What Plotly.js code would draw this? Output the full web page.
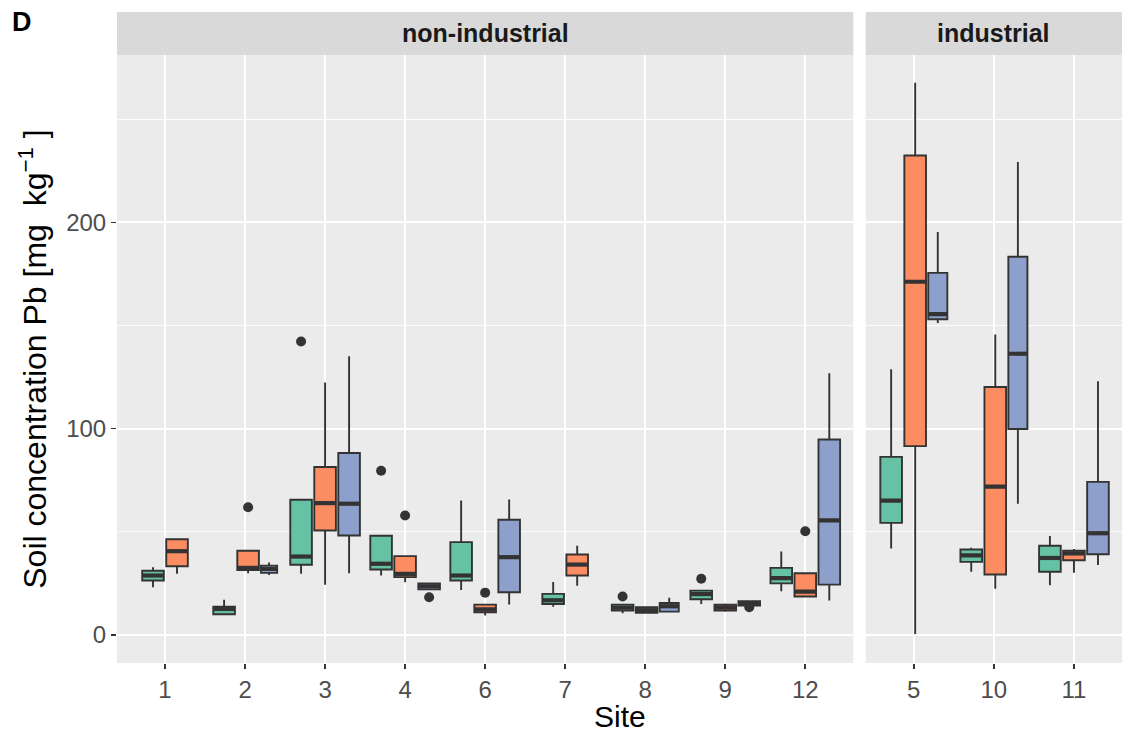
<!DOCTYPE html>
<html>
<head>
<meta charset="utf-8">
<script src="https://cdn.plot.ly/plotly-3.0.1.min.js"></script>
<style>html,body{margin:0;padding:0;background:#fff;}#chart{width:1124px;height:734px;}</style>
</head>
<body>
<div id="chart"></div>
<script>
// ---------------- data ----------------
const nonIndustrialSites = ['1', '2', '3', '4', '6', '7', '8', '9', '12'];
const industrialSites = ['5', '10', '11'];
const groupNames = ['group 1', 'group 2', 'group 3'];

// one entry per box (site, group index)
const boxSite  = ['1','1', '2','2','2', '3','3','3', '4','4','4', '6','6','6', '7','7', '8','8','8', '9','9','9', '12','12','12', '5','5','5', '10','10','10', '11','11','11'];
const boxGroup = [ 0, 1,    0, 1, 2,    0, 1, 2,    0, 1, 2,    0, 1, 2,    0, 1,    0, 1, 2,    0, 1, 2,    0, 1, 2,       0, 1, 2,    0, 1, 2,       0, 1, 2];
const lowerWhisker = [23.1, 29.6,  10.0, 29.9, 29.1,  29.6, 24.3, 29.9,  28.8, 25.5, 22.1,  21.8, 9.4, 14.7,  13.7, 23.8,  10.5, 10.7, 11.3,  15.0, 11.3, 14.2,  21.2, 18.3, 16.7,  41.9, 0.5, 151.2,  30.6, 22.4, 63.6,  24.1, 30.2, 33.9];
const q1Values     = [26.4, 33.3,  10.0, 31.5, 30.1,  34.0, 50.6, 48.2,  31.7, 28.0, 22.1,  26.4, 11.0, 20.7,  15.0, 28.8,  11.8, 10.7, 11.3,  17.3, 11.8, 14.2,  25.0, 18.6, 24.4,  54.3, 91.5, 153.0,  35.4, 29.3, 99.8,  30.6, 36.2, 39.1];
const medianValues = [28.8, 40.6,  12.6, 32.5, 32.0,  38.0, 63.9, 63.6,  34.5, 29.6, 23.6,  28.8, 12.4, 37.7,  16.8, 34.1,  13.2, 12.0, 13.9,  19.8, 13.2, 15.3,  27.5, 21.0, 55.5,  65.1, 171.2, 155.5,  38.6, 71.9, 136.3,  37.3, 39.5, 49.3];
const q3Values     = [31.1, 46.4,  13.7, 40.8, 33.6,  65.5, 81.4, 88.2,  48.1, 38.2, 25.0,  45.0, 14.7, 55.8,  19.9, 39.0,  14.7, 13.4, 15.5,  21.5, 14.6, 16.3,  32.5, 29.9, 94.7,  86.3, 232.4, 175.5,  41.4, 120.2, 183.3,  43.2, 40.8, 74.2];
const upperWhisker = [32.8, 46.4,  17.1, 40.8, 35.1,  65.5, 122.4, 135.1,  48.1, 38.2, 25.0,  65.2, 14.7, 65.7,  25.7, 43.2,  14.7, 13.4, 18.0,  21.5, 15.3, 16.3,  40.4, 29.9, 126.8,  128.8, 267.7, 195.3,  42.3, 145.6, 229.2,  47.9, 41.7, 123.0];
const sampleSize   = [9, 9,  9, 9, 5,  9, 9, 9,  9, 9, 9,  9, 9, 9,  9, 9,  9, 9, 7,  9, 9, 9,  9, 9, 9,  9, 9, 7,  9, 9, 7,  9, 9, 9];

// outliers
const outlierSite  = ['2', '3', '4', '4', '4', '6', '8', '9', '9', '12'];
const outlierGroup = [ 1,   0,   0,   1,   2,   1,   0,   0,   2,   1];
const outlierValue = [61.9, 142.2, 79.6, 57.9, 18.3, 20.5, 18.6, 27.2, 13.4, 50.3];

// ---------------- styles ----------------
const groupColors = ['#66C2A5', '#FC8D62', '#8DA0CB'];
const darkLine = '#333333';
const fontFamily = 'Liberation Sans, Arial, sans-serif';

// ---------------- dodge (preserve single, varwidth) ----------------
const nGroupsMax = 3;
const slotWidth = 0.9 / nGroupsMax;
const padding = 0.1;
const maxN = Math.max(...sampleSize);

function panelOf(site) { return nonIndustrialSites.includes(site) ? 0 : 1; }
function sitePos(site) {
  const p = panelOf(site);
  return (p === 0 ? nonIndustrialSites : industrialSites).indexOf(site) + 1;
}

const centers = new Array(boxSite.length);
const widths = new Array(boxSite.length);
const allSites = nonIndustrialSites.concat(industrialSites);
allSites.forEach(site => {
  const idx = [];
  boxSite.forEach((s, i) => { if (s === site) idx.push(i); });
  idx.sort((a, b) => boxGroup[a] - boxGroup[b]);
  const slots = idx.map(i => slotWidth * Math.sqrt(sampleSize[i] / maxN));
  const total = slots.reduce((a, b) => a + b, 0);
  let start = sitePos(site) - total / 2;
  idx.forEach((i, k) => {
    centers[i] = start + slots[k] / 2;
    widths[i] = slots[k] * (1 - padding);
    start += slots[k];
  });
});

// ---------------- traces ----------------
const traces = [];
boxSite.forEach((site, i) => {
  const ax = panelOf(site) === 0 ? 'x' : 'x2';
  traces.push({
    type: 'box',
    orientation: 'v',
    name: groupNames[boxGroup[i]],
    x: [centers[i]],
    q1: [q1Values[i]],
    median: [medianValues[i]],
    q3: [q3Values[i]],
    lowerfence: [lowerWhisker[i]],
    upperfence: [upperWhisker[i]],
    width: widths[i],
    fillcolor: groupColors[boxGroup[i]],
    line: { color: darkLine, width: 1.9 },
    whiskerwidth: 0,
    boxpoints: false,
    xaxis: ax,
    yaxis: 'y',
    showlegend: false,
    hoverinfo: 'y'
  });
});

// thicker median lines (ggplot fatten)
[0, 1].forEach(p => {
  const mx = [], my = [];
  boxSite.forEach((site, i) => {
    if (panelOf(site) !== p) return;
    mx.push(centers[i] - widths[i] / 2, centers[i] + widths[i] / 2, null);
    my.push(medianValues[i], medianValues[i], null);
  });
  traces.push({
    type: 'scatter', mode: 'lines', x: mx, y: my,
    line: { color: darkLine, width: 4.2 },
    xaxis: p === 0 ? 'x' : 'x2', yaxis: 'y',
    showlegend: false, hoverinfo: 'skip'
  });
});

// outliers
[0, 1].forEach(p => {
  const ox = [], oy = [];
  outlierSite.forEach((site, k) => {
    if (panelOf(site) !== p) return;
    const i = boxSite.findIndex((s, j) => s === site && boxGroup[j] === outlierGroup[k]);
    ox.push(centers[i]);
    oy.push(outlierValue[k]);
  });
  if (ox.length) traces.push({
    type: 'scatter', mode: 'markers', x: ox, y: oy,
    marker: { color: darkLine, size: 10 },
    xaxis: p === 0 ? 'x' : 'x2', yaxis: 'y',
    showlegend: false
  });
});

// ---------------- layout ----------------
const plotTop = 55, plotBottom = 662.7, H = 734, W = 1124, L = 117, R = 2;
const plotH = plotBottom - plotTop;
const plotW = W - L - R;
const stripTopPaper = 1 + (plotTop - 12) / plotH;
const leftEnd = (853.3 - L) / plotW;
const rightStart = (865.7 - L) / plotW;

const commonX = {
  showgrid: true, gridcolor: '#FFFFFF', gridwidth: 1.8,
  zeroline: false, showline: false,
  ticks: 'outside', ticklen: 5, tickwidth: 1.6, tickcolor: darkLine,
  tickfont: { family: fontFamily, size: 24, color: '#4D4D4D' },
  anchor: 'y', fixedrange: true
};

const layout = {
  width: W, height: H,
  margin: { l: L, r: R, t: plotTop, b: H - plotBottom },
  paper_bgcolor: '#FFFFFF',
  plot_bgcolor: '#EBEBEB',
  font: { family: fontFamily, color: '#000000' },
  showlegend: false,
  xaxis: Object.assign({}, commonX, {
    domain: [0, leftEnd], range: [0.4, nonIndustrialSites.length + 0.6],
    tickmode: 'array', tickvals: nonIndustrialSites.map((s, i) => i + 1), ticktext: nonIndustrialSites
  }),
  xaxis2: Object.assign({}, commonX, {
    domain: [rightStart, 1], range: [0.4, industrialSites.length + 0.6],
    tickmode: 'array', tickvals: industrialSites.map((s, i) => i + 1), ticktext: industrialSites
  }),
  yaxis: {
    range: [-13.6, 281.1],
    tick0: 0, dtick: 100,
    showgrid: true, gridcolor: '#FFFFFF', gridwidth: 1.8,
    minor: { dtick: 50, tick0: 0, showgrid: true, gridcolor: '#FFFFFF', gridwidth: 0.9, ticks: '' },
    zeroline: false, showline: false,
    ticks: 'outside', ticklen: 5, tickwidth: 1.6, tickcolor: darkLine,
    tickfont: { family: fontFamily, size: 24, color: '#4D4D4D' },
    title: { text: 'Soil concentration Pb [mg  kg<sup>\u22121</sup> ]', font: { family: fontFamily, size: 32, color: '#000000' }, standoff: 9 },
    fixedrange: true
  },
  shapes: [
    { type: 'rect', xref: 'x domain', yref: 'paper', x0: 0, x1: 1, y0: 1, y1: stripTopPaper, fillcolor: '#D9D9D9', line: { width: 0 }, layer: 'below' },
    { type: 'rect', xref: 'x2 domain', yref: 'paper', x0: 0, x1: 1, y0: 1, y1: stripTopPaper, fillcolor: '#D9D9D9', line: { width: 0 }, layer: 'below' }
  ],
  annotations: [
    { text: 'non-industrial', xref: 'x domain', x: 0.5, yref: 'paper', y: (1 + stripTopPaper) / 2, xanchor: 'center', yanchor: 'middle', showarrow: false,
      font: { family: fontFamily, size: 25, color: '#1A1A1A', weight: 'bold' } },
    { text: 'industrial', xref: 'x2 domain', x: 0.5, yref: 'paper', y: (1 + stripTopPaper) / 2, xanchor: 'center', yanchor: 'middle', showarrow: false,
      font: { family: fontFamily, size: 25, color: '#1A1A1A', weight: 'bold' } },
    { text: 'Site', xref: 'paper', x: 0.5, yref: 'paper', y: -(716 - plotBottom) / plotH, xanchor: 'center', yanchor: 'middle', showarrow: false,
      font: { family: fontFamily, size: 30, color: '#000000' } },
    { text: 'D', xref: 'paper', x: (10 - L) / plotW, yref: 'paper', y: 1 + (plotTop - 21.7) / plotH, xanchor: 'left', yanchor: 'middle', showarrow: false,
      font: { family: fontFamily, size: 27, color: '#000000', weight: 'bold' } }
  ]
};

Plotly.newPlot('chart', traces, layout, { displayModeBar: false, staticPlot: true });
</script>
</body>
</html>
